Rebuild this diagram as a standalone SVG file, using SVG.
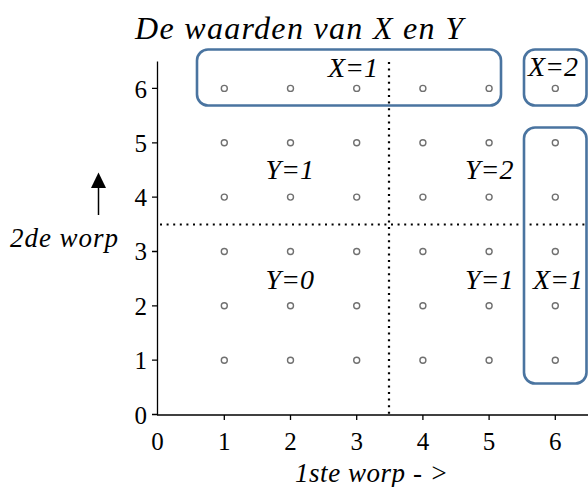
<svg xmlns="http://www.w3.org/2000/svg" width="588" height="487" viewBox="0 0 588 487">
<style>
.t{font-family:"Liberation Serif","Times New Roman",serif;fill:#000}
.i{font-style:italic}
.tick{font-size:25px;text-anchor:middle}
.ytick{font-size:25px;text-anchor:end}
.lab{font-size:28px}
.axis{stroke:#000;stroke-width:1.3;fill:none}
.dot{stroke:#000;stroke-width:2.2;stroke-dasharray:2 4.6;fill:none}
.box{fill:none;stroke:#4a74a0;stroke-width:2.6}
.pt{fill:#fff;stroke:#707070;stroke-width:1.4}
</style>
<defs>
<marker id="ah" markerWidth="8" markerHeight="8" refX="4" refY="0" orient="auto" markerUnits="userSpaceOnUse" viewBox="0 -1 8 9" overflow="visible">
<path d="M-7.5 15 L0 0 L7.5 15 Z" fill="#000"/>
</marker>
</defs>
<text class="t i" x="135" y="39" font-size="32" textLength="328" lengthAdjust="spacing">De waarden van X en Y</text>
<g id="connectors">
<line class="axis" x1="157.5" y1="61.5" x2="157.5" y2="415"/>
<line class="axis" x1="157" y1="415" x2="588" y2="415"/>
<path class="axis" d="M224.3 415v5M290.5 415v5M356.7 415v5M422.9 415v5M489.1 415v5M555.3 415v5"/>
<path class="axis" d="M152 414.5h5.5M152 360.2h5.5M152 305.8h5.5M152 251.5h5.5M152 197.1h5.5M152 142.8h5.5M152 88.4h5.5"/>
<line class="dot" x1="389" y1="62" x2="389" y2="414"/>
<line class="dot" x1="160" y1="224.5" x2="588" y2="224.5"/>
<line x1="98.5" y1="215" x2="98.5" y2="186" stroke="#000" stroke-width="1.5"/>
<path d="M91 188 L98.5 172.5 L106 188 Z" fill="#000"/>
</g>
<g id="tick-labels">
<text class="t tick" x="157.5" y="450">0</text>
<text class="t tick" x="224.3" y="450">1</text>
<text class="t tick" x="290.5" y="450">2</text>
<text class="t tick" x="356.7" y="450">3</text>
<text class="t tick" x="422.9" y="450">4</text>
<text class="t tick" x="489.1" y="450">5</text>
<text class="t tick" x="555.3" y="450">6</text>
<text class="t ytick" x="147" y="423.5">0</text>
<text class="t ytick" x="147" y="369">1</text>
<text class="t ytick" x="147" y="314.5">2</text>
<text class="t ytick" x="147" y="260">3</text>
<text class="t ytick" x="147" y="206">4</text>
<text class="t ytick" x="147" y="151.5">5</text>
<text class="t ytick" x="147" y="97.5">6</text>
</g>
<text class="t i" x="295" y="482" font-size="27" textLength="153" lengthAdjust="spacing">1ste worp - &gt;</text>
<text class="t i" x="10" y="247" font-size="27" textLength="108" lengthAdjust="spacing">2de worp</text>
<g id="points">
<circle class="pt" cx="224.3" cy="360.2" r="3"/><circle class="pt" cx="290.5" cy="360.2" r="3"/><circle class="pt" cx="356.7" cy="360.2" r="3"/><circle class="pt" cx="422.9" cy="360.2" r="3"/><circle class="pt" cx="489.1" cy="360.2" r="3"/><circle class="pt" cx="555.3" cy="360.2" r="3"/>
<circle class="pt" cx="224.3" cy="305.8" r="3"/><circle class="pt" cx="290.5" cy="305.8" r="3"/><circle class="pt" cx="356.7" cy="305.8" r="3"/><circle class="pt" cx="422.9" cy="305.8" r="3"/><circle class="pt" cx="489.1" cy="305.8" r="3"/><circle class="pt" cx="555.3" cy="305.8" r="3"/>
<circle class="pt" cx="224.3" cy="251.5" r="3"/><circle class="pt" cx="290.5" cy="251.5" r="3"/><circle class="pt" cx="356.7" cy="251.5" r="3"/><circle class="pt" cx="422.9" cy="251.5" r="3"/><circle class="pt" cx="489.1" cy="251.5" r="3"/><circle class="pt" cx="555.3" cy="251.5" r="3"/>
<circle class="pt" cx="224.3" cy="197.1" r="3"/><circle class="pt" cx="290.5" cy="197.1" r="3"/><circle class="pt" cx="356.7" cy="197.1" r="3"/><circle class="pt" cx="422.9" cy="197.1" r="3"/><circle class="pt" cx="489.1" cy="197.1" r="3"/><circle class="pt" cx="555.3" cy="197.1" r="3"/>
<circle class="pt" cx="224.3" cy="142.8" r="3"/><circle class="pt" cx="290.5" cy="142.8" r="3"/><circle class="pt" cx="356.7" cy="142.8" r="3"/><circle class="pt" cx="422.9" cy="142.8" r="3"/><circle class="pt" cx="489.1" cy="142.8" r="3"/><circle class="pt" cx="555.3" cy="142.8" r="3"/>
<circle class="pt" cx="224.3" cy="88.4" r="3"/><circle class="pt" cx="290.5" cy="88.4" r="3"/><circle class="pt" cx="356.7" cy="88.4" r="3"/><circle class="pt" cx="422.9" cy="88.4" r="3"/><circle class="pt" cx="489.1" cy="88.4" r="3"/><circle class="pt" cx="555.3" cy="88.4" r="3"/>
</g>
<g id="box-x1-top">
<rect class="box" x="197" y="49.5" width="304" height="56" rx="11"/>
<text class="t i lab" x="328" y="77">X=1</text>
</g>
<g id="box-x2">
<rect class="box" x="524" y="49.5" width="62.5" height="56" rx="11"/>
<text class="t i lab" x="528" y="76">X=2</text>
</g>
<g id="box-x1-right">
<rect class="box" x="524" y="127.5" width="62.5" height="256" rx="11"/>
<text class="t i lab" x="533" y="289">X=1</text>
</g>
<g id="region-y1-left"><text class="t i lab" x="265.5" y="179">Y=1</text></g>
<g id="region-y2"><text class="t i lab" x="465" y="179">Y=2</text></g>
<g id="region-y0"><text class="t i lab" x="265.5" y="289">Y=0</text></g>
<g id="region-y1-right"><text class="t i lab" x="465" y="289">Y=1</text></g>
</svg>
